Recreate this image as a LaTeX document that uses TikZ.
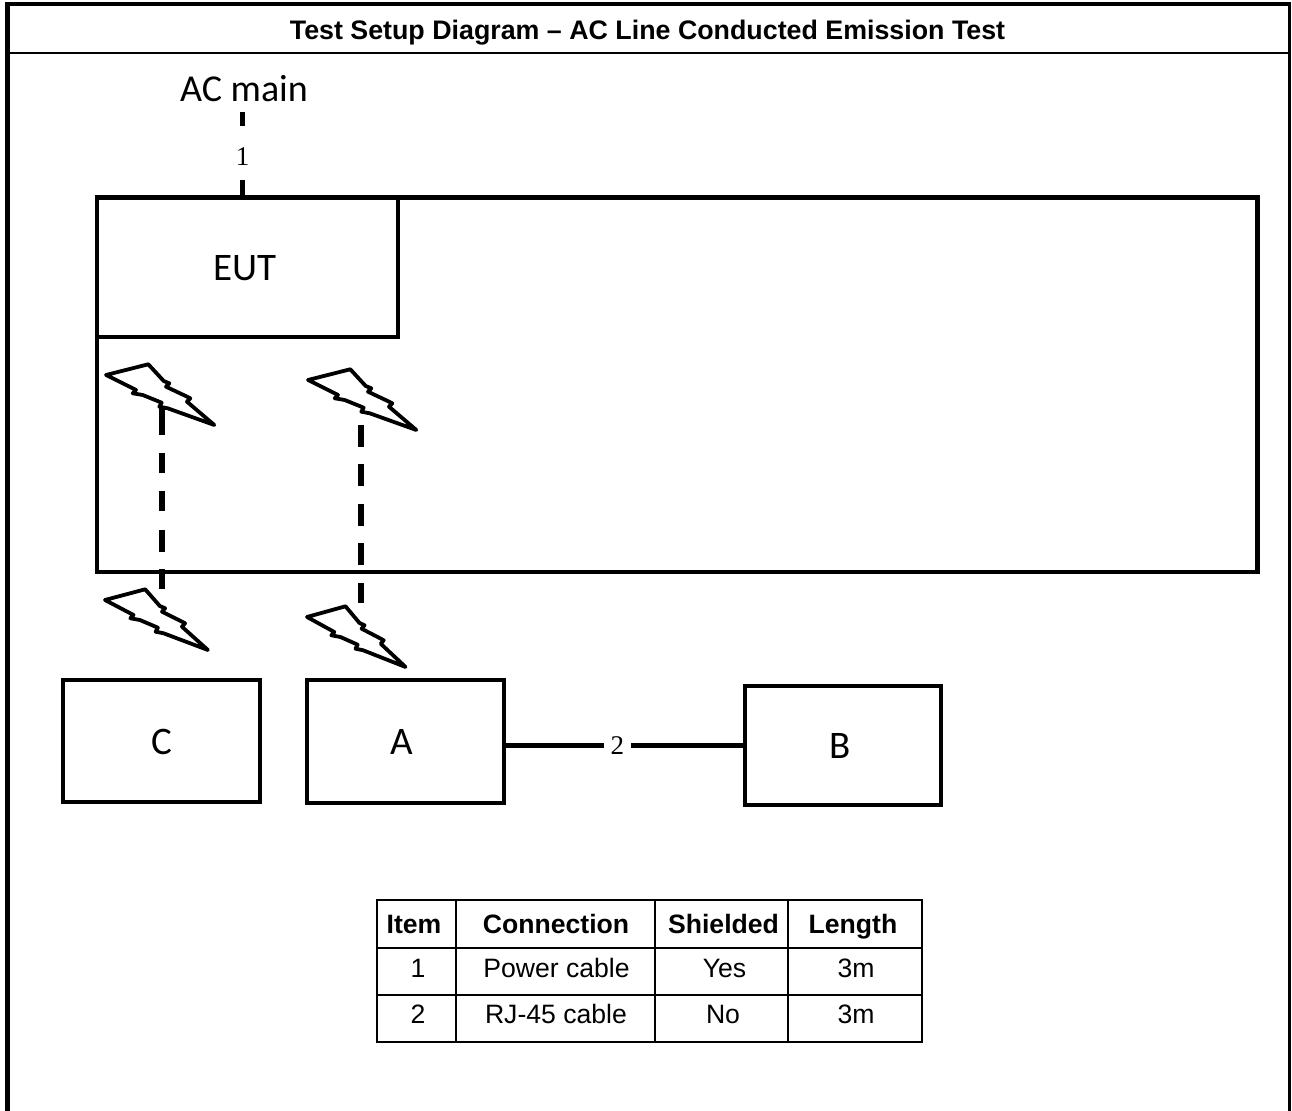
\documentclass[tikz,border=0pt]{standalone}
\usepackage{fontspec}
\setmainfont{Liberation Sans}
\newfontfamily\calfont{Carlito}
\newfontfamily\numfont{Liberation Serif}
\tikzset{
  lightning/.pic={
    \path[boltline] (0,0) -- (42.3,-10.7) -- (57.7,6) -- (63.3,8.3) -- (60,11.7)
      -- (79,20.7) -- (84.3,23.3) -- (81,26.7) -- (108.3,50)
      -- (61.7,33.3) -- (53.3,31.7) -- (55.7,27.7) -- (36.7,20) -- (26.7,18.3) -- (30,15) -- cycle;
  }
}
\begin{document}
\begin{tikzpicture}[x=0.5pt,y=-0.5pt,
  every node/.style={inner sep=0pt, outer sep=0pt},
  boxline/.style={draw, line width=2.25pt},
  boltline/.style={draw, line width=1.9pt, line join=round, fill=white},
  cabledash/.style={line width=2.6pt},
  tabline/.style={line width=1.2pt},
  titletext/.style={font=\bfseries\fontsize{13.4}{16}\selectfont, anchor=base},
  caltext/.style={font=\calfont\fontsize{19}{23}\selectfont, anchor=base},
  boxtext/.style={font=\calfont\fontsize{19.5}{23}\selectfont},
  numtext/.style={font=\numfont\fontsize{13.5}{16}\selectfont, anchor=base},
  thead/.style={font=\bfseries\fontsize{13.3}{16}\selectfont, anchor=base},
  tcell/.style={font=\fontsize{13.3}{16}\selectfont, anchor=base}
]
\useasboundingbox (0,0) rectangle (1292,1111);
% outer frame
\draw[line width=2.5pt] (7,1111) -- (7,4);
\draw[line width=2pt] (5,4) -- (1291,4);
\draw[line width=1.25pt] (1289.5,4) -- (1289.5,1111);
\draw[line width=1.1pt] (7,53) -- (1289.5,53);
\node[titletext] (title) at (647.5,39.5) {Test Setup Diagram – AC Line Conducted Emission Test};

% bench and EUT
\node[boxline, minimum width=580.25pt, minimum height=187.25pt] (bench) at (677.25,384.75) {};
\node[boxline, minimum width=150.5pt, minimum height=69.75pt,
      label={[boxtext, xshift=-1.25pt, yshift=-0.5pt]center:EUT}] (eut) at (247.5,267.25) {};

% AC main
\node[caltext] (ac) at (244,102) {AC main};
\coordinate (acend) at (242.5,112);
\draw[cabledash, dash pattern=on 7.25pt off 26.75pt on 10pt off 10pt] (acend) -- (acend |- bench.north);
\node[numtext] (n1) at (242.5,166) {1};

% wireless links (dashed) drawn under the bolts
\coordinate (s1) at (162,405);
\coordinate (e1) at (162,590);
\coordinate (s2) at (361,425);
\coordinate (e2) at (361,603);
\draw[cabledash, dash pattern=on 15pt off 9pt on 10pt off 9.25pt on 10pt off 9.25pt on 11pt off 8.75pt on 10pt off 10pt] (s1) -- (e1);
\draw[cabledash, dash pattern=on 11pt off 8.75pt] (s2) -- (e2);

% lightning bolts
\pic at (106,375) {lightning};
\pic at (308,380) {lightning};
\pic[xscale=0.95] at (105,600) {lightning};
\pic[xscale=0.91] at (307,617) {lightning};

% peripheral boxes
\node[boxline, minimum width=98.5pt, minimum height=61pt,
      label={[boxtext, xshift=0pt, yshift=-0.35pt]center:C}] (C) at (161.5,741) {};
\node[boxline, minimum width=98.5pt, minimum height=61.5pt,
      label={[boxtext, xshift=-1.75pt, yshift=-0.25pt]center:A}] (A) at (405.5,741.5) {};
\node[boxline, minimum width=98pt, minimum height=59.5pt,
      label={[boxtext, xshift=-1.5pt, yshift=-0.25pt]center:B}] (B) at (843,745.5) {};
\draw[line width=2.5pt] (A.east |- B.west) -- (B.west)
  node[pos=0.47, fill=white, inner xsep=3.5pt, inner ysep=1pt, font=\numfont\fontsize{13.5}{16}\selectfont] (n2) {2};

% table
\draw[tabline] (377,900) rectangle (922,1042);
\draw[tabline] (456,900) -- (456,1042);
\draw[tabline] (655,900) -- (655,1042);
\draw[tabline] (788,900) -- (788,1042);
\draw[tabline] (377,948) -- (922,948);
\draw[tabline] (377,995) -- (922,995);
\node[thead] (h1) at (414,934) {Item};
\node[thead] (h2) at (556,934) {Connection};
\node[thead] (h3) at (723.5,934) {Shielded};
\node[thead] (h4) at (853,934) {Length};
\node[tcell] (r11) at (418,977.5) {1};
\node[tcell] (r12) at (556.5,977.5) {Power cable};
\node[tcell] (r13) at (724.5,977.5) {Yes};
\node[tcell] (r14) at (856,977.5) {3m};
\node[tcell] (r21) at (418,1023.5) {2};
\node[tcell] (r22) at (556,1023.5) {RJ-45 cable};
\node[tcell] (r23) at (723,1023.5) {No};
\node[tcell] (r24) at (856,1023.5) {3m};
\end{tikzpicture}
\end{document}
